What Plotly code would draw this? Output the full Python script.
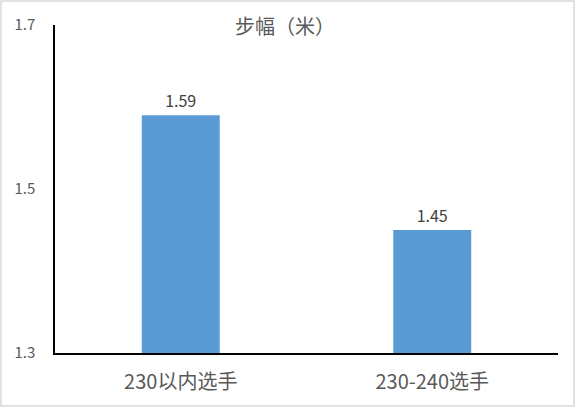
import plotly.graph_objects as go

categories = ["230以内选手", "230-240选手"]
values = [1.59, 1.45]
y_ticks = [1.3, 1.5, 1.7]
y_tick_labels = ["1.3", "1.5", "1.7"]
title_text = "步幅（米）"

W, H = 575, 407
L, R, T, B = 55, 17, 25, 54
pw, ph = W - L - R, H - T - B

def px_x(x):
    return (x - L) / pw

def px_y(y):
    return (H - B - y) / ph

font_family = "Noto Sans CJK SC, Noto Sans, sans-serif"

fig = go.Figure()
fig.add_trace(go.Bar(
    x=categories, y=values,
    marker=dict(color="#5B9BD5", line=dict(width=0)),
    text=[f"{v:.2f}" for v in values],
    textposition="outside",
    textfont=dict(size=16, color="#404040", family=font_family),
    cliponaxis=False,
    width=0.31,
))

fig.update_layout(
    width=W, height=H,
    margin=dict(l=L, r=R, t=T, b=B),
    paper_bgcolor="white", plot_bgcolor="white",
    showlegend=False,
    font=dict(family=font_family, color="#595959"),
    xaxis=dict(
        showgrid=False, showline=True, linecolor="black", linewidth=2,
        tickfont=dict(size=20, color="#595959"),
        ticks="", ticklabelstandoff=10,
    ),
    yaxis=dict(
        range=[1.3, 1.7], tickvals=y_ticks, ticktext=y_tick_labels,
        showgrid=False, showline=True, linecolor="black", linewidth=1.5,
        zeroline=False,
        tickfont=dict(size=15, color="#595959"),
        ticks="", ticklabelstandoff=15,
    ),
    annotations=[dict(
        text=title_text, x=px_x(285), y=px_y(25), xref="paper", yref="paper",
        showarrow=False, font=dict(size=20, color="#595959"),
        xanchor="center", yanchor="middle",
    )],
    shapes=[dict(
        type="rect", xref="paper", yref="paper",
        x0=px_x(1), x1=px_x(574), y0=px_y(406), y1=px_y(1),
        line=dict(color="#D9D9D9", width=1.5), layer="below",
    )],
)

fig.write_html(
    "out.html",
    config={"displayModeBar": False},
    post_script="document.body.style.margin='0';document.body.style.overflow='hidden';",
)
